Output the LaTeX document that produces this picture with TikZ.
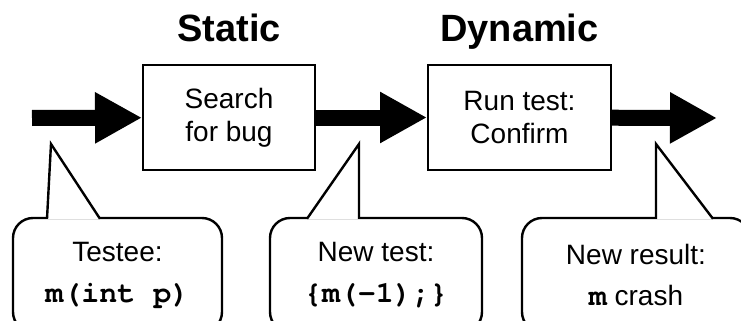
\documentclass[tikz,border=0pt]{standalone}
\usepackage{fontspec}
\setmainfont{Liberation Sans}
\newfontfamily\codefont{TeX Gyre Cursor}
\usetikzlibrary{positioning}
\usetikzlibrary{arrows.meta}
\usetikzlibrary{calc}

\newcommand{\code}[1]{{\codefont\bfseries\fontsize{15}{20.5}\selectfont #1}}

\tikzset{
	stage/.style={draw,line width=1pt,minimum height=52.5pt,align=center,inner sep=0pt,font=\fontsize{14}{16.5}\selectfont},
	phase/.style={font=\bfseries\fontsize{19}{23}\selectfont,inner sep=0pt},
	bubble/.style={draw,line width=1.2pt,rounded corners=10pt,minimum height=57pt,align=center,inner sep=0pt,font=\fontsize{14}{20.5}\selectfont},
	pointer/.style={draw,line width=1.2pt,fill=white,line join=miter},
	bigarrow/.style={line width=8pt,-{Triangle[length=23.5pt,width=24pt]}},
}

\begin{document}
\begin{tikzpicture}[x=0.5pt,y=-0.5pt]
	\path[use as bounding box,clip] (0,0) rectangle (741,321);
	%% stages
	\node[stage,minimum width=86pt] (search) at (229,117.5) {Search\\for bug};
	\node[stage,minimum width=91.5pt] (confirm) at (519.5,117.5) {Run test:\\Confirm};
	\node[phase,above=11.5pt of search.north,anchor=base] (static) {Static};
	\node[phase,above=11.5pt of confirm.north,anchor=base] (dynamic) {Dynamic};
	\coordinate (in) at (32,118);
	\coordinate (out) at (717,118);
	% arrows between stages
	\draw[bigarrow] (in) -- (search);
	\draw[bigarrow] (search) -- (confirm);
	\draw[bigarrow] (confirm) -- (out);
	%% callouts
	\node[bubble,minimum width=104.5pt] (testee) at (117.5,275) {Testee:\\\code{m(int p)}};
	\node[bubble,minimum width=106pt] (newtest) at (376,275) {New test:\\\code{\{m(-1);\}}};
	\node[bubble,minimum width=114pt] (result) at (636,275) {New result:\\\code{m} crash};
	\coordinate (tipA) at (51,144);
	\coordinate (tipB) at (359,144);
	\coordinate (tipC) at (656,144);
	\draw[pointer] ($(testee.north)+(-70.5,2)$) -- (tipA) -- ($(testee.north)+(-17.5,2)$);
	\draw[pointer] ($(newtest.north)+(-69,2)$) -- (tipB) -- ($(newtest.north)+(-17,2)$);
	\draw[pointer] ($(result.north)+(20,2)$) -- (tipC) -- ($(result.north)+(77,2)$);
\end{tikzpicture}
\end{document}
